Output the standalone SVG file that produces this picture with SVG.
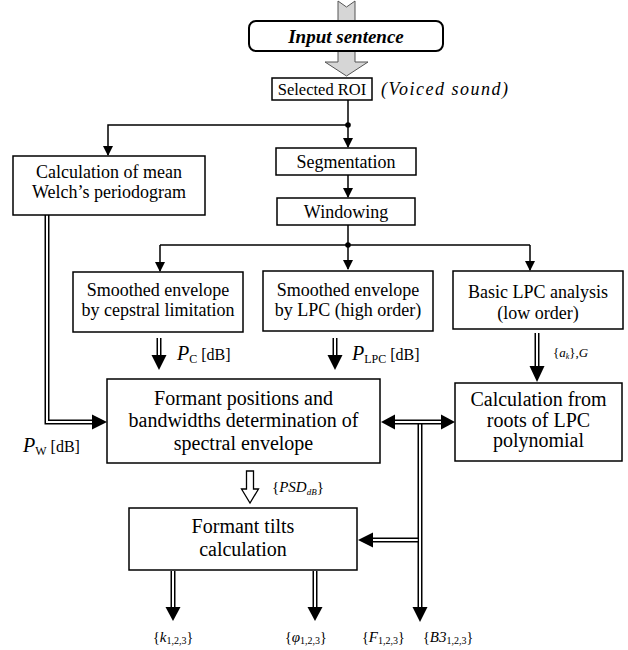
<svg xmlns="http://www.w3.org/2000/svg" width="628" height="650" viewBox="0 0 628 650" font-family="'Liberation Serif', 'Times New Roman', serif">
<style>
text, tspan { font-family: 'Liberation Serif', 'Times New Roman', serif; fill: #000; }
.box{fill:#fff;stroke:#000;stroke-width:1.5}
.ln{fill:none;stroke:#000;stroke-width:1.5}
.dO{fill:none;stroke:#000;stroke-width:5}
.dI{fill:none;stroke:#fff;stroke-width:2}
.hd{fill:#000}
.t16{font-size:16.5px;text-anchor:middle}
.t18{font-size:18px;text-anchor:middle}
.t20{font-size:20px;text-anchor:middle}
.gray{fill:#d6d6d6;stroke:#555;stroke-width:1}
</style>
<defs>
<marker id="ah" markerUnits="userSpaceOnUse" markerWidth="10" markerHeight="12" refX="9" refY="6" orient="auto">
<path d="M0,1 L10,6 L0,11 z" fill="#000"/>
</marker>
</defs>

<g id="connectors">
<polygon class="gray" points="338,1 346.5,7 355,1 355,24 338,24"/>
<polygon class="gray" points="338,51 355,51 355,62 368,62 346.5,76 325,62 338,62"/>
<path class="ln" d="M348,100 V147" marker-end="url(#ah)"/>
<path class="ln" d="M348,125 H108 V155" marker-end="url(#ah)"/>
<circle cx="348" cy="125" r="2.8"/>
<path class="ln" d="M348,175 V197" marker-end="url(#ah)"/>
<path class="ln" d="M348,225 V269" marker-end="url(#ah)"/>
<circle cx="348" cy="245" r="2.8"/>
<path class="ln" d="M160,245 H530"/>
<path class="ln" d="M160,245 V271" marker-end="url(#ah)"/>
<path class="ln" d="M530,245 V270" marker-end="url(#ah)"/>

<path class="dO" d="M47,215 V422 H93"/>
<path class="dI" d="M47,215 V422 H93"/>
<polygon class="hd" points="92,414.5 107,422 92,429.5"/>

<path class="dO" d="M159,338 V356"/>
<path class="dI" d="M159,338 V356"/>
<polygon class="hd" points="151.5,355 166.5,355 159,370"/>
<path class="dO" d="M335,338 V356"/>
<path class="dI" d="M335,338 V356"/>
<polygon class="hd" points="327.5,355 342.5,355 335,370"/>
<path class="dO" d="M537,333 V367"/>
<path class="dI" d="M537,333 V367"/>
<polygon class="hd" points="529.5,366 544.5,366 537,382"/>

<polygon fill="#fff" stroke="#000" stroke-width="1.3" points="246.5,471 253.5,471 253.5,489 258.5,489 250,503 241.5,489 246.5,489"/>

<path class="dO" d="M420,422 V608"/>
<path class="dO" d="M394,422 H442"/>
<path class="dO" d="M372,540 H420"/>
<path class="dI" d="M394,422 H442"/>
<path class="dI" d="M420,424.5 V608"/>
<path class="dI" d="M372,540 H417.7"/>
<polygon class="hd" points="395,414.5 381,422 395,429.5"/>
<polygon class="hd" points="441,414.5 455,422 441,429.5"/>
<polygon class="hd" points="412.5,607 427.5,607 420,622"/>
<polygon class="hd" points="373,532.5 358,540 373,547.5"/>

<path class="dO" d="M173,571 V608"/>
<path class="dI" d="M173,571 V608"/>
<polygon class="hd" points="165.5,607 180.5,607 173,621"/>
<path class="dO" d="M315,571 V608"/>
<path class="dI" d="M315,571 V608"/>
<polygon class="hd" points="307.5,607 322.5,607 315,621"/>
</g>

<g id="input">
<rect x="249" y="21" width="194" height="30" rx="7" fill="#fff" stroke="#000" stroke-width="2"/>
<text x="346" y="42.5" font-size="19" font-weight="bold" font-style="italic" text-anchor="middle">Input sentence</text>
</g>

<g id="roi">
<rect class="box" x="272" y="78" width="100" height="22"/>
<text class="t16" x="322" y="95">Selected ROI</text>
<text x="381" y="95" font-size="18" font-style="italic" letter-spacing="1.5">(Voiced sound)</text>
</g>

<g id="welch">
<rect class="box" x="13" y="156" width="192" height="59"/>
<text class="t18" x="109" y="178">Calculation of mean</text>
<text class="t18" x="109" y="198">Welch’s periodogram</text>
</g>

<g id="segmentation">
<rect class="box" x="276" y="148" width="140" height="27"/>
<text class="t18" x="346" y="167.5">Segmentation</text>
</g>

<g id="windowing">
<rect class="box" x="277" y="198" width="138" height="27"/>
<text class="t18" x="346" y="218">Windowing</text>
</g>

<g id="cepstral">
<rect class="box" x="73" y="272" width="170" height="60"/>
<text class="t18" x="158" y="296">Smoothed envelope</text>
<text class="t18" x="158" y="316">by cepstral limitation</text>
</g>

<g id="lpchigh">
<rect class="box" x="263" y="271" width="170" height="60"/>
<text class="t18" x="348" y="295.5">Smoothed envelope</text>
<text class="t18" x="348" y="315.5">by LPC (high order)</text>
</g>

<g id="lpcbasic">
<rect class="box" x="453" y="271" width="170" height="58"/>
<text class="t18" x="538" y="297.5">Basic LPC analysis</text>
<text class="t18" x="538" y="319">(low order)</text>
</g>

<g id="formant">
<rect class="box" x="107" y="379" width="273" height="84"/>
<text class="t20" x="243.5" y="405">Formant positions and</text>
<text class="t20" x="243.5" y="427">bandwidths determination of</text>
<text class="t20" x="243.5" y="450">spectral envelope</text>
</g>

<g id="roots">
<rect class="box" x="455" y="383" width="167" height="78"/>
<text class="t20" x="538.5" y="406">Calculation from</text>
<text class="t20" x="538.5" y="427">roots of LPC</text>
<text class="t20" x="538.5" y="447">polynomial</text>
</g>

<g id="tilts">
<rect class="box" x="129" y="508" width="228" height="62"/>
<text class="t20" x="243" y="533">Formant tilts</text>
<text class="t20" x="243" y="556">calculation</text>
</g>

<g id="labels">
<text x="23" y="452"><tspan font-style="italic" font-size="20">P</tspan><tspan font-size="12" dy="3">W</tspan><tspan font-size="16" dy="-3"> [dB]</tspan></text>
<text x="177" y="360"><tspan font-style="italic" font-size="20">P</tspan><tspan font-size="12" dy="3">C</tspan><tspan font-size="16" dy="-3"> [dB]</tspan></text>
<text x="352" y="360"><tspan font-style="italic" font-size="20">P</tspan><tspan font-size="12" dy="3">LPC</tspan><tspan font-size="16" dy="-3"> [dB]</tspan></text>
<text x="553" y="357" font-size="13">{<tspan font-style="italic">a</tspan><tspan font-size="8" font-style="italic" dy="2">k</tspan><tspan dy="-2">},</tspan><tspan font-style="italic">G</tspan></text>
<text x="272" y="492" font-size="15">{<tspan font-style="italic">PSD</tspan><tspan font-size="9" font-style="italic" dy="3">dB</tspan><tspan dy="-3">}</tspan></text>
<text x="153" y="642" font-size="14">{<tspan font-style="italic" font-size="15">k</tspan><tspan font-size="10" dy="2">1,2,3</tspan><tspan dy="-2">}</tspan></text>
<text x="285" y="642" font-size="14">{<tspan font-style="italic" font-size="15">φ</tspan><tspan font-size="10" dy="2">1,2,3</tspan><tspan dy="-2">}</tspan></text>
<text x="362" y="642" font-size="14">{<tspan font-style="italic" font-size="15">F</tspan><tspan font-size="10" dy="2">1,2,3</tspan><tspan dy="-2">}</tspan></text>
<text x="423" y="642" font-size="14">{<tspan font-style="italic" font-size="15">B3</tspan><tspan font-size="10" dy="2">1,2,3</tspan><tspan dy="-2">}</tspan></text>
</g>
</svg>
